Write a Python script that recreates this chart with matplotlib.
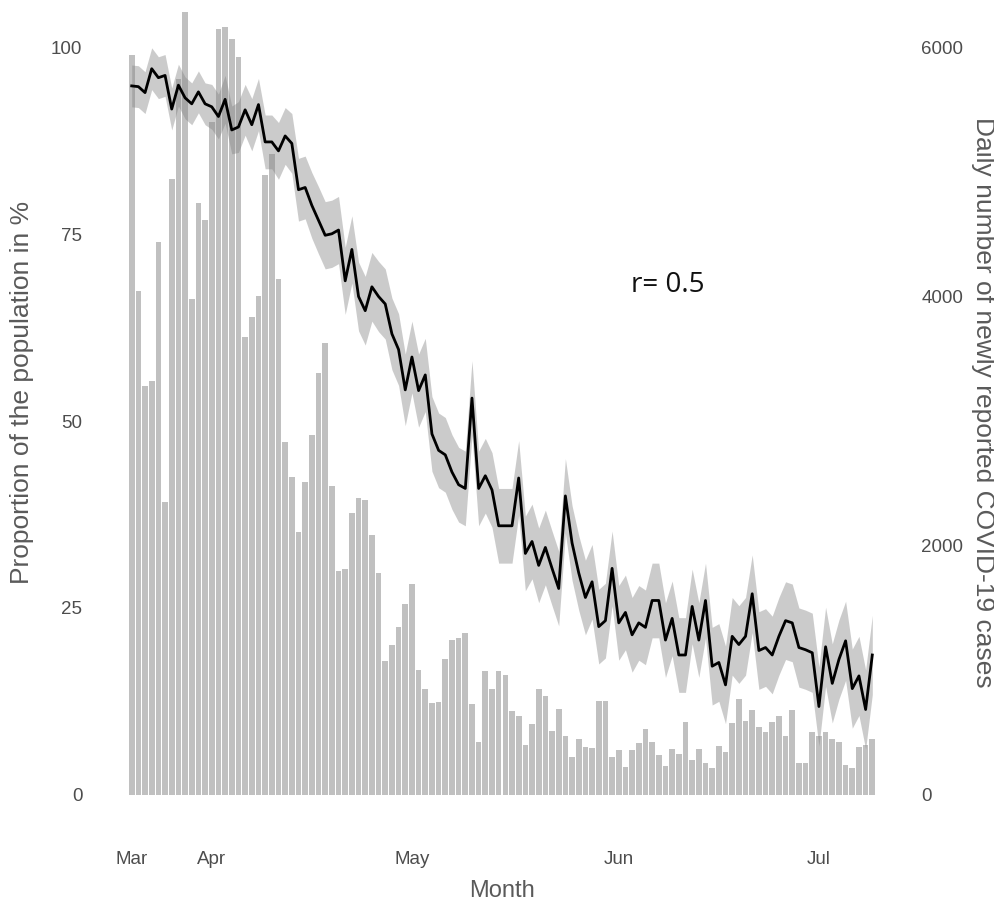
import numpy as np
import pandas as pd
import matplotlib.pyplot as plt

# daily data, 20 Mar - 9 Jul
dates = pd.date_range('2020-03-20', periods=112, freq='D')

cases = [5940, 4050, 3280, 3320, 4440, 2350, 4950, 5750, 6290, 3980,
         4750, 4620, 5400, 6150, 6170, 6070, 5930, 3680, 3840, 4010,
         4980, 5150, 4140, 2830, 2550, 2110, 2510, 2890, 3390, 3630,
         2480, 1800, 1810, 2260, 2380, 2370, 2090, 1780, 1070, 1200,
         1350, 1530, 1690, 1000, 845, 740, 745, 1090, 1240, 1260,
         1295, 725, 420, 990, 850, 990, 965, 675, 635, 395,
         570, 850, 795, 515, 690, 470, 305, 450, 385, 375,
         755, 755, 300, 355, 225, 355, 415, 530, 425, 315,
         230, 370, 330, 580, 275, 370, 255, 215, 390, 345,
         575, 770, 595, 680, 540, 500, 585, 635, 475, 680,
         255, 255, 500, 470, 505, 445, 425, 235, 215, 385,
         400, 445]

share = [94.9, 94.8, 94.0, 97.2, 96.0, 96.3, 91.8, 95.0, 93.3, 92.5,
         94.1, 92.5, 92.1, 90.8, 93.1, 89.0, 89.4, 91.7, 89.7, 92.4,
         87.4, 87.4, 86.2, 88.2, 87.2, 81.0, 81.3, 78.9, 76.9, 74.9,
         75.1, 75.6, 68.8, 73.0, 66.7, 64.8, 68.0, 66.7, 65.7, 61.7,
         59.6, 54.2, 58.6, 54.1, 56.2, 48.3, 46.1, 45.5, 43.2, 41.5,
         41.0, 53.1, 41.0, 42.7, 40.8, 36.0, 36.0, 36.0, 42.4, 32.3,
         33.9, 30.7, 33.1, 30.3, 27.6, 40.0, 33.7, 29.7, 26.4, 28.5,
         22.5, 23.3, 30.3, 23.0, 24.4, 21.4, 23.0, 22.4, 26.0, 26.0,
         20.7, 23.6, 18.7, 18.7, 25.2, 20.7, 26.0, 17.2, 17.7, 14.7,
         21.2, 20.1, 21.2, 26.9, 19.3, 19.7, 18.7, 21.2, 23.3, 23.0,
         19.7, 19.4, 19.0, 11.8, 19.8, 14.9, 18.1, 20.6, 14.2, 15.9,
         11.4, 18.7]

# half width of the shaded band, in percentage points
ci_half = [2.8, 2.8, 2.8, 2.8, 2.8, 2.8, 2.8, 2.8, 2.8, 2.8,
           2.8, 2.8, 3.0, 3.0, 3.2, 3.2, 3.4, 3.4, 3.5, 3.5,
           3.6, 3.6, 3.8, 3.8, 4.0, 4.2, 4.2, 4.4, 4.5, 4.5,
           4.5, 4.5, 4.5, 4.5, 4.6, 4.6, 4.6, 4.7, 4.7, 4.8,
           4.8, 4.8, 4.8, 4.9, 4.9, 5.0, 5.0, 5.0, 5.0, 5.0,
           5.0, 5.0, 5.0, 5.0, 5.0, 5.0, 5.0, 5.0, 5.0, 5.0,
           5.0, 5.0, 5.0, 5.0, 5.0, 5.0, 5.0, 5.0, 5.0, 5.0,
           5.0, 5.0, 5.0, 5.0, 5.0, 5.0, 5.0, 5.0, 5.0, 5.0,
           5.0, 5.0, 5.0, 5.0, 5.0, 5.0, 5.0, 5.2, 5.2, 5.2,
           5.2, 5.2, 5.2, 5.2, 5.2, 5.2, 5.2, 5.2, 5.2, 5.2,
           5.3, 5.3, 5.3, 5.3, 5.3, 5.3, 5.3, 5.3, 5.3, 5.3,
           5.3, 5.3]

tick_dates = pd.to_datetime(['2020-03-20', '2020-04-01', '2020-05-01',
                             '2020-06-01', '2020-07-01'])
tick_labels = ['Mar', 'Apr', 'May', 'Jun', 'Jul']
left_ticks = [0, 25, 50, 75, 100]
right_ticks = [0, 2000, 4000, 6000]

plt.rcParams['font.family'] = ['Liberation Sans', 'DejaVu Sans']
tick_col = '#4d4d4d'
title_col = '#5a5a5a'

fig = plt.figure(figsize=(9.94, 9.0), dpi=100)
ax = fig.add_axes([95 / 994, 68 / 900, 814 / 994, 829 / 900])
ax2 = ax.twinx()

# bars (right scale) on the bottom axes
ax.bar(dates, cases, width=0.85, color='#c0c0c0', linewidth=0)

share = np.array(share)
ci_half = np.array(ci_half)
ax2.fill_between(dates, share - ci_half, share + ci_half,
                 color='#7f7f7f', alpha=0.4, linewidth=0)
ax2.plot(dates, share, color='black', lw=2.0)

ax.set_xlim(dates[0] - pd.Timedelta(days=5.5), dates[-1] + pd.Timedelta(days=5.5))
ax2.set_ylim(-5, 106)
ax.set_ylim(-300, 6360)

ax.set_xticks(tick_dates)
ax.set_xticklabels(tick_labels)

ax.yaxis.tick_right()
ax.set_yticks(right_ticks)
ax2.yaxis.tick_left()
ax2.set_yticks(left_ticks)

for a in (ax, ax2):
    for s in a.spines.values():
        s.set_visible(False)
    a.tick_params(length=0, labelsize=13.5, labelcolor=tick_col)
ax.tick_params(axis='x', pad=14)
ax.tick_params(axis='y', pad=9)
ax2.tick_params(axis='y', pad=9)

ax.set_xlabel('Month', fontsize=17, color=title_col, labelpad=8)
fig.text(22 / 994, 1 - 392 / 900, 'Proportion of the population in %',
         rotation=90, ha='center', va='center', fontsize=19, color=title_col)
fig.text(983 / 994, 1 - 402 / 900, 'Daily number of newly reported COVID-19 cases',
         rotation=270, ha='center', va='center', fontsize=19, color=title_col)

fig.text(668 / 994, 1 - 285 / 900, 'r= 0.5', ha='center', va='center',
         fontsize=20, color='#111111', family=['Open Sans', 'DejaVu Sans'])

fig.savefig('out.png', dpi=100)
